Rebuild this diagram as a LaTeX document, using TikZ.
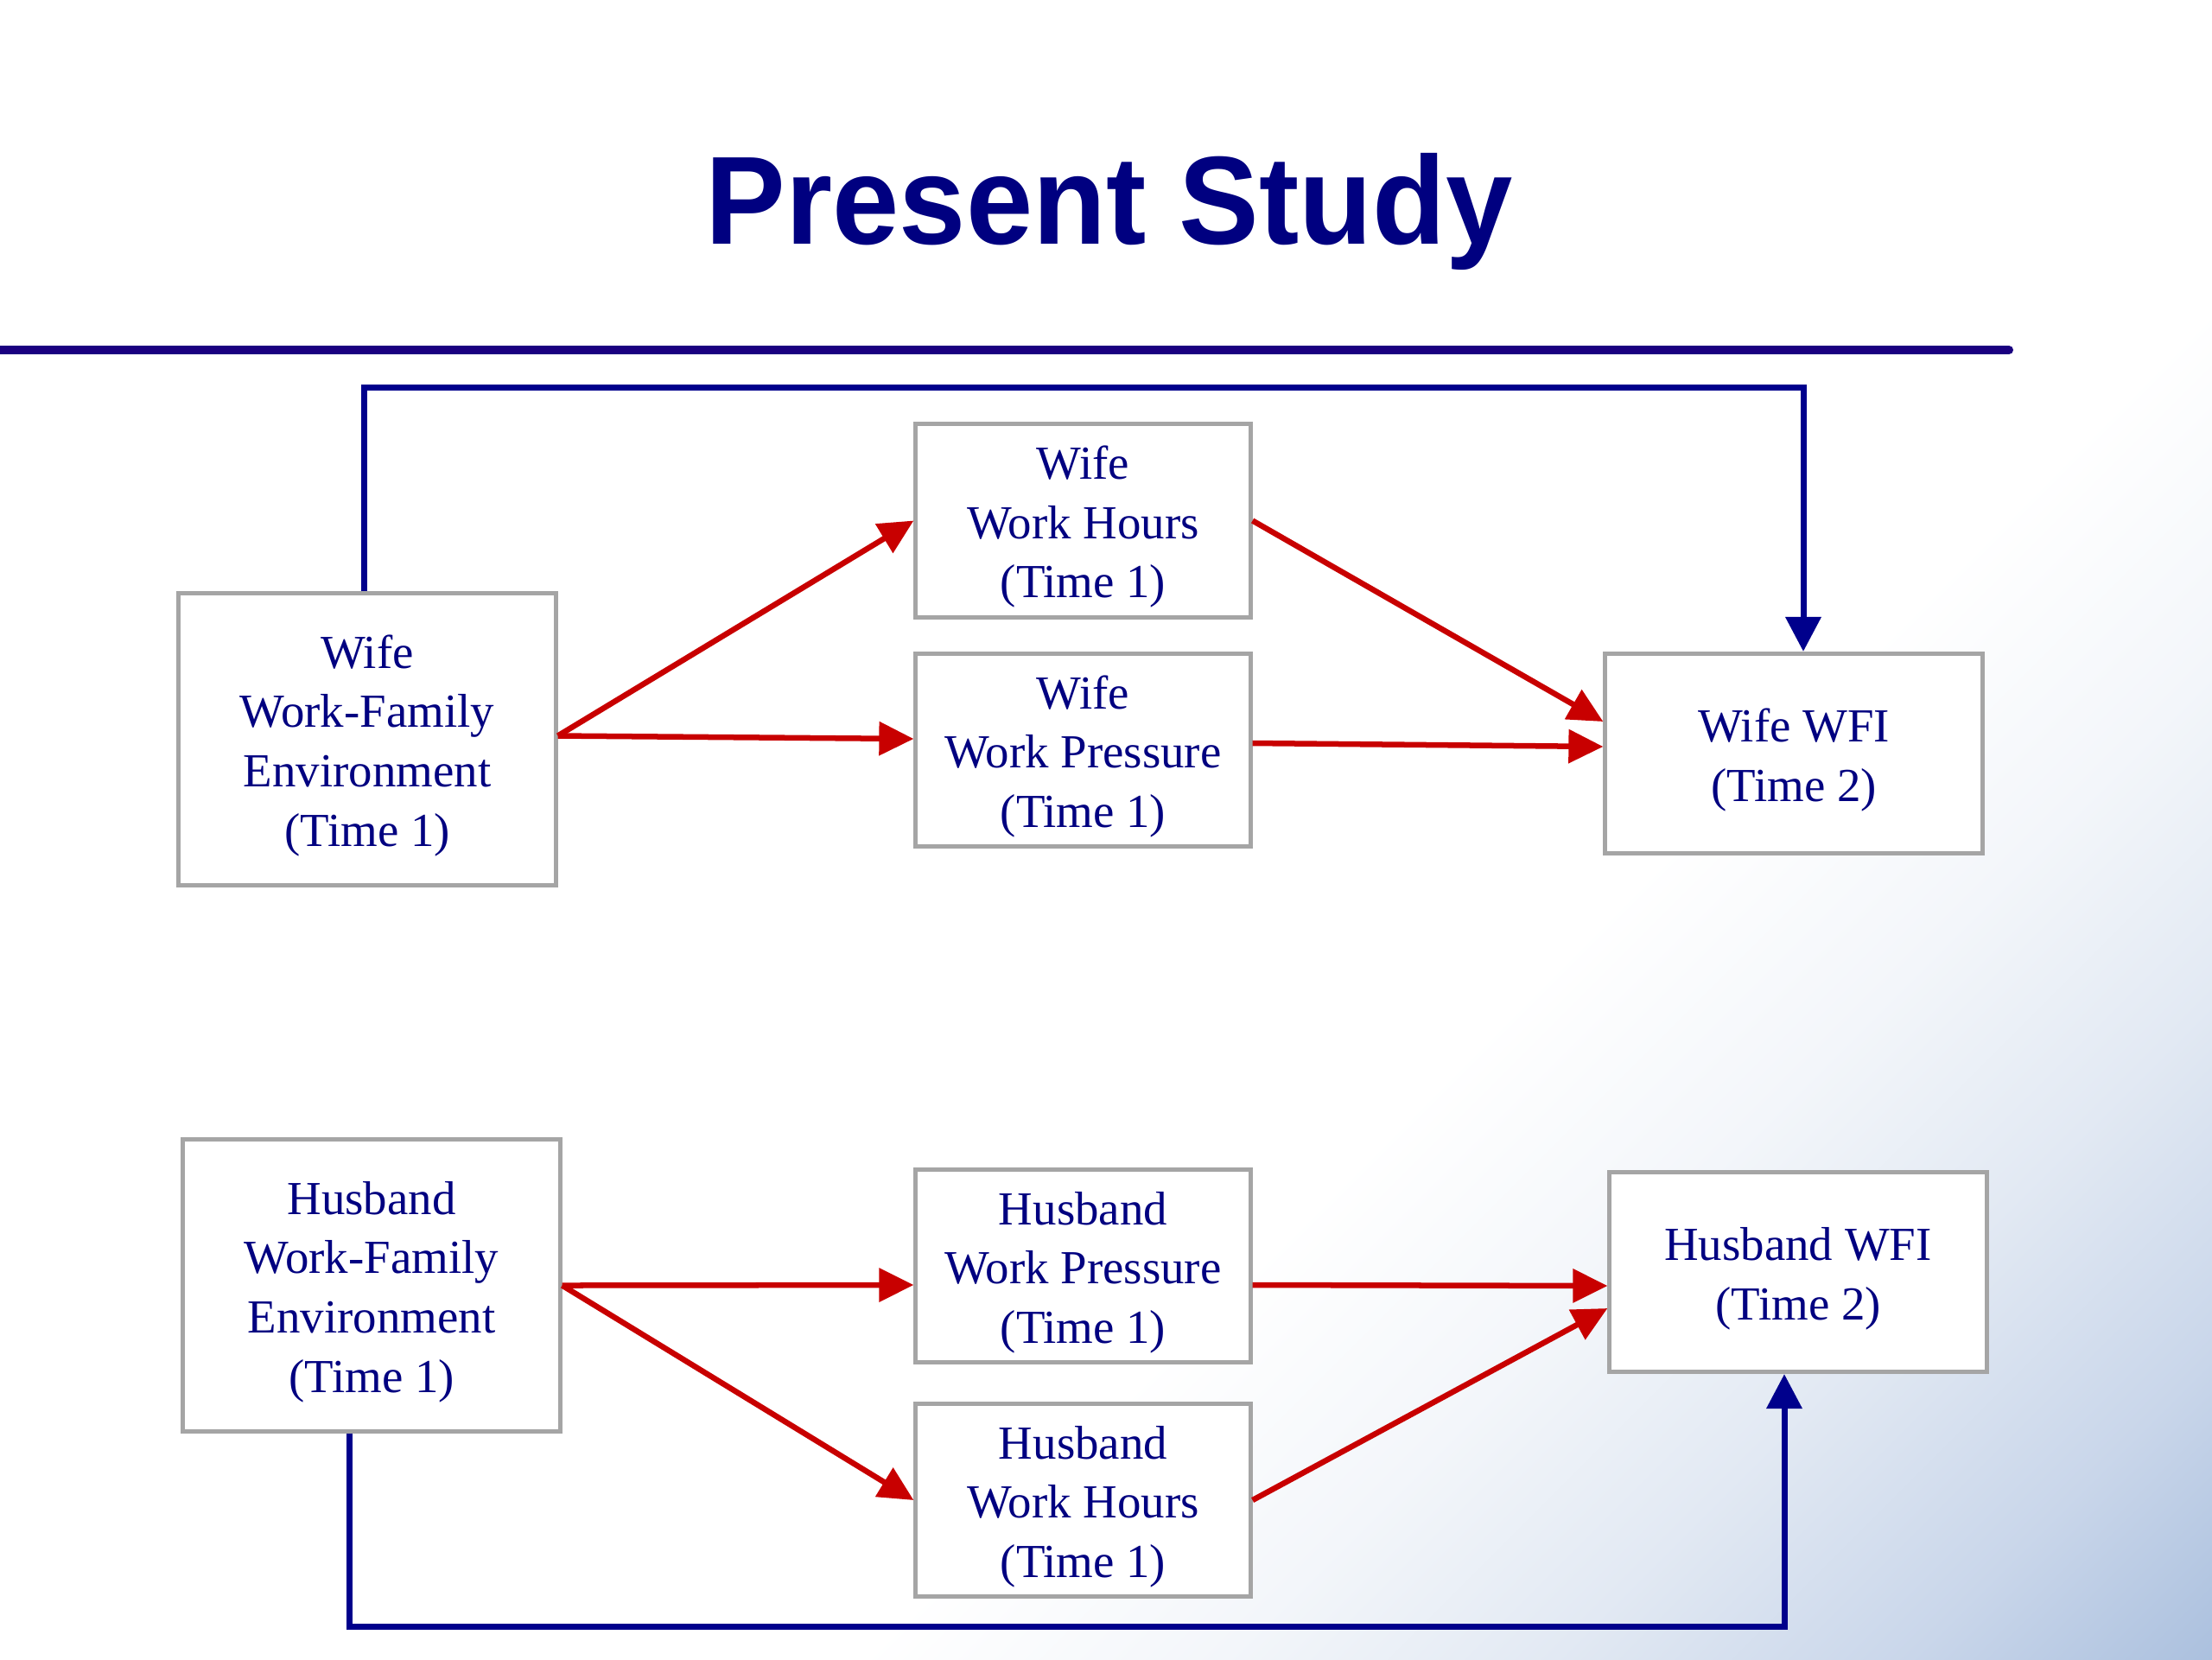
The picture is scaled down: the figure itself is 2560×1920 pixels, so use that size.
\documentclass[tikz,border=0pt]{standalone}
\usepackage{fontspec}
\setmainfont{Liberation Serif}
\newfontfamily\titlefont{Liberation Sans}
\usetikzlibrary{arrows.meta,calc}
\definecolor{navy}{RGB}{0,0,128}
\definecolor{rulecol}{RGB}{26,0,128}
\definecolor{linkblue}{RGB}{0,0,140}
\definecolor{linkred}{RGB}{200,0,0}
\definecolor{boxgray}{RGB}{165,165,165}
\definecolor{bgA}{RGB}{243,246,250}
\definecolor{bgB}{RGB}{226,233,243}
\definecolor{bgC}{RGB}{201,214,234}
\definecolor{bgD}{RGB}{171,192,222}
\pgfdeclarehorizontalshading{bgshade}{1000pt}{color(0pt)=(white); color(635pt)=(white); color(720pt)=(bgA); color(797pt)=(bgB); color(880pt)=(bgC); color(951pt)=(bgD); color(1000pt)=(bgD)}
\newcommand\boxtext[1]{\raisebox{-0.07cm}[\height][\depth]{\begin{tabular}{@{}c@{}}#1\end{tabular}}}
\begin{document}
\begin{tikzpicture}[x=0.01cm,y=-0.01cm,
  box/.style={draw=boxgray, line width=0.05cm, fill=white,
    text=navy, font=\fontsize{15.6}{19.5}\selectfont, inner sep=0pt},
  bigbox/.style={box, minimum width=4.36cm, minimum height=3.37cm},
  midbox/.style={box, minimum width=3.87cm, minimum height=2.23cm},
  endbox/.style={box, minimum width=4.36cm, minimum height=2.31cm},
  redarrow/.style={draw=linkred, line width=0.065cm, -{Triangle[length=0.4cm,width=0.38cm]}},
  bluearrow/.style={draw=linkblue, line width=0.07cm, -{Triangle[length=0.4cm,width=0.4cm]}}]
\useasboundingbox (0,0) rectangle (2560,1920);
\begin{scope}
  \clip (0,0) rectangle (2560,1920);
  \fill[white] (0,0) rectangle (2560,1920);
  \node[rotate=-45, inner sep=0pt, outer sep=0pt] (bg) at (1280,960) {\pgfuseshading{bgshade}};
  \coordinate (ruleL) at (-20,405);
  \coordinate (ruleR) at (2325,405);
  \draw[rulecol, line width=0.1cm, line cap=round] (ruleL) -- (ruleR);
\end{scope}

\node[font=\titlefont\bfseries\fontsize{39.5}{44}\selectfont, text=navy, anchor=base, inner sep=0pt] (title) at (1284,282) {\scalebox{1}[1.045]{Present Study}};

% wife
\node[bigbox] (wwfe) at (425,855.5) {\boxtext{Wife\\Work-Family\\Environment\\(Time 1)}};
\node[midbox] (wwh) at (1253.5,602.5) {\boxtext{Wife\\Work Hours\\(Time 1)}};
\node[midbox] (wwp) at (1253.5,868) {\boxtext{Wife\\Work Pressure\\(Time 1)}};
\node[endbox] (wwfi) at (2076,872) {\boxtext{Wife WFI\\(Time 2)}};

% husband
\node[bigbox] (hwfe) at (430,1487.5) {\boxtext{Husband\\Work-Family\\Environment\\(Time 1)}};
\node[midbox] (hwp) at (1253.5,1465) {\boxtext{Husband\\Work Pressure\\(Time 1)}};
\node[midbox] (hwh) at (1253.5,1736) {\boxtext{Husband\\Work Hours\\(Time 1)}};
\node[endbox] (hwfi) at (2081,1472) {\boxtext{Husband WFI\\(Time 2)}};

% red paths wife
\draw[redarrow] ($(wwfe.east)+(0,-4)$) -- (wwh.west);
\draw[redarrow] ($(wwfe.east)+(0,-4)$) -- ($(wwp.west)+(0,-13)$);
\draw[redarrow] (wwh.east) -- ($(wwfi.west)+(0,-37)$);
\draw[redarrow] ($(wwp.east)+(0,-8)$) -- ($(wwfi.west)+(0,-8)$);

% red paths husband
\draw[redarrow] (hwfe.east) -- ($(hwp.west)+(0,22)$);
\draw[redarrow] (hwfe.east) -- (hwh.west);
\draw[redarrow] ($(hwp.east)+(0,22)$) -- ($(hwfi.west)+(0,16)$);
\draw[redarrow] (hwh.east) -- ($(hwfi.west)+(0,42)$);

% blue paths
\coordinate (t1) at (421,448);
\coordinate (t2) at (2087,448);
\draw[bluearrow] (wwfe.north -| t1) -- (t1) -- (t2) -- (t2 |- wwfi.north);
\coordinate (b1) at (404,1882);
\coordinate (b2) at (2065,1882);
\draw[bluearrow] (hwfe.south -| b1) -- (b1) -- (b2) -- (b2 |- hwfi.south);
\end{tikzpicture}
\end{document}
